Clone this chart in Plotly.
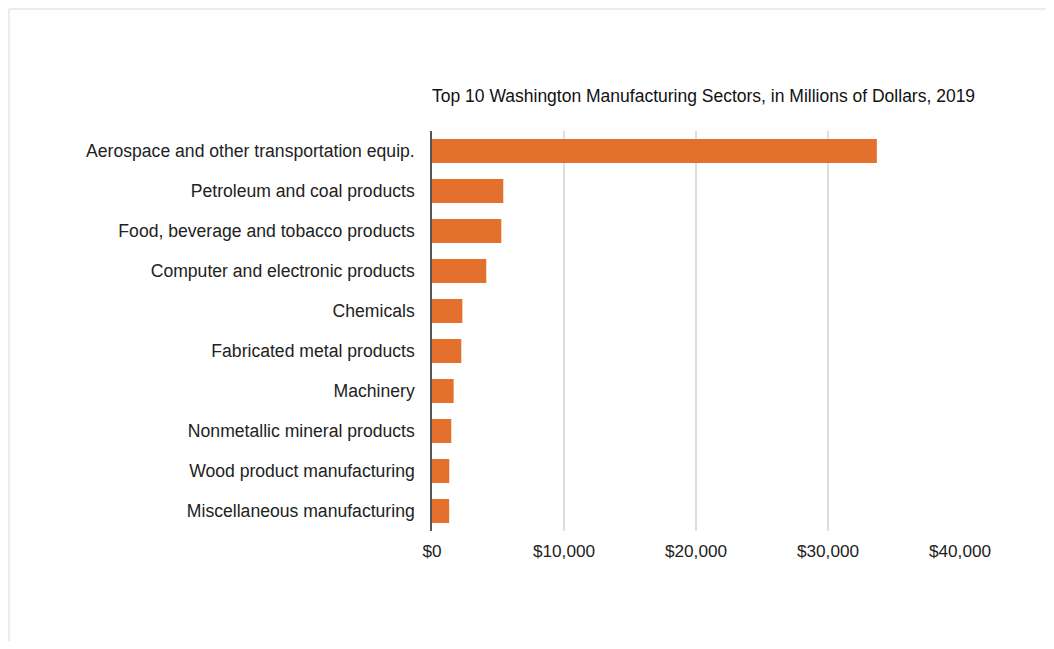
import plotly.graph_objects as go

categories = [
    "Aerospace and other transportation equip.",
    "Petroleum and coal products",
    "Food, beverage and tobacco products",
    "Computer and electronic products",
    "Chemicals",
    "Fabricated metal products",
    "Machinery",
    "Nonmetallic mineral products",
    "Wood product manufacturing",
    "Miscellaneous manufacturing",
]
values = [33700, 5400, 5250, 4110, 2300, 2220, 1640, 1460, 1310, 1300]
tick_vals = [0, 10000, 20000, 30000, 40000]
tick_text = ["$0", "$10,000", "$20,000", "$30,000", "$40,000"]
title_text = "Top 10 Washington Manufacturing Sectors, in Millions of Dollars, 2019"

font_family = "Liberation Sans, Arial, sans-serif"

# figure is placed by the page at an 8px body offset
W, H = 1046, 633
L, T, PW, PH = 424, 123, 528, 400

fig = go.Figure(
    go.Bar(
        x=values,
        y=categories,
        orientation="h",
        marker=dict(color="#E4702E", line=dict(width=0)),
        width=0.6,
    )
)

bx = (1 - L) / PW
by = 1 + (T - 1) / PH

fig.update_layout(
    width=W,
    height=H,
    paper_bgcolor="white",
    plot_bgcolor="white",
    margin=dict(l=L, r=W - L - PW, t=T, b=H - T - PH),
    showlegend=False,
    font=dict(family=font_family, color="#222222"),
    title=dict(
        text=title_text,
        x=L / W,
        xanchor="left",
        y=1 - 88 / H,
        yanchor="middle",
        font=dict(size=17.5, color="#111111", family=font_family),
    ),
    shapes=[
        dict(type="line", xref="paper", yref="paper",
             x0=bx, x1=3, y0=by, y1=by,
             line=dict(color="#E3E6EA", width=1.5)),
        dict(type="line", xref="paper", yref="paper",
             x0=bx, x1=bx, y0=-3, y1=by,
             line=dict(color="#E3E6EA", width=1.5)),
    ],
)

fig.update_xaxes(
    range=[0, 40000],
    tickvals=tick_vals,
    ticktext=tick_text,
    showgrid=True,
    gridcolor="#DDDDDD",
    gridwidth=1.5,
    zeroline=False,
    showline=False,
    ticks="",
    tickfont=dict(size=17.2, color="#222222"),
    ticklabelstandoff=8,
)

fig.update_yaxes(
    autorange="reversed",
    showgrid=False,
    zeroline=False,
    showline=True,
    linecolor="#555555",
    linewidth=1.5,
    ticks="",
    tickfont=dict(size=17.6, color="#222222"),
    ticklabelstandoff=12,
)

fig.write_html("out.html")
